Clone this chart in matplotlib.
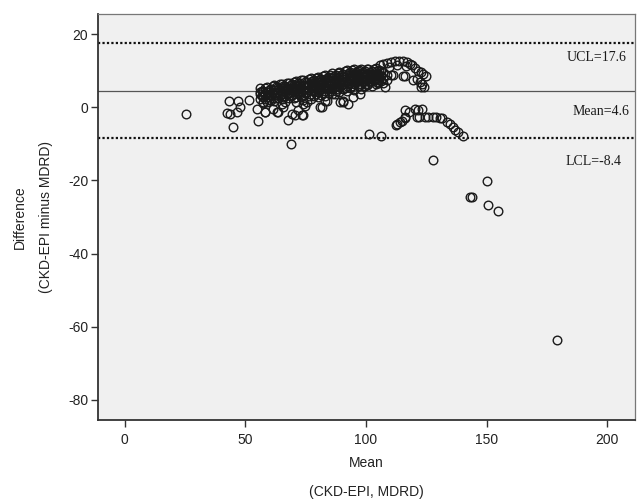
import matplotlib
matplotlib.use("Agg")
import matplotlib.pyplot as plt
import matplotlib.transforms as mtransforms

# ---------------- data ----------------
# dense main band: (mean, difference)
band_mean = [
    56, 56, 56,
    57.5, 57.5, 57.5,
    59, 59, 59, 59,
    60.5, 60.5, 60.5,
    62, 62, 62, 62,
    63.5, 63.5, 63.5,
    65, 65, 65, 65,
    66.5, 66.5, 66.5, 66.5,
    68, 68, 68, 68,
    69.5, 69.5, 69.5,
    71, 71, 71, 71, 71,
    72.5, 72.5, 72.5,
    74, 74, 74, 74, 74,
    75.5, 75.5, 75.5,
    77, 77, 77, 77, 77,
    78.5, 78.5, 78.5, 78.5,
    80, 80, 80, 80, 80,
    81.5, 81.5, 81.5, 81.5,
    83, 83, 83, 83, 83,
    84.5, 84.5, 84.5, 84.5,
    86, 86, 86, 86, 86,
    87.5, 87.5, 87.5, 87.5,
    89, 89, 89, 89, 89,
    90.5, 90.5, 90.5, 90.5,
    92, 92, 92, 92, 92,
    93.5, 93.5, 93.5, 93.5,
    95, 95, 95, 95, 95,
    96.5, 96.5, 96.5, 96.5,
    98, 98, 98, 98, 98,
    99.5, 99.5, 99.5, 99.5,
    101, 101, 101, 101,
    102.5, 102.5, 102.5, 102.5,
    104, 104, 104, 104,
    105.5, 105.5, 105.5,
    107, 107, 107,
    108.5, 108.5,
]
band_diff = [
    5.2, 3.8, 2.4,
    4.6, 3.0, 1.2,
    5.6, 4.2, 2.8, 1.5,
    5.0, 3.4, 2.0,
    6.2, 4.8, 3.3, 1.8,
    5.7, 4.2, 2.6,
    6.5, 5.2, 3.8, 2.4,
    6.0, 4.6, 3.1, 1.6,
    6.8, 5.4, 4.0, 2.6,
    6.3, 4.9, 3.5,
    7.3, 5.9, 4.5, 3.0, 1.6,
    6.7, 5.3, 3.8,
    7.6, 6.2, 4.8, 3.4, 2.0,
    7.1, 5.6, 4.2,
    8.0, 6.6, 5.2, 3.7, 2.4,
    7.5, 6.0, 4.6, 3.1,
    8.4, 7.0, 5.5, 4.1, 2.8,
    7.8, 6.4, 5.0, 3.5,
    8.8, 7.4, 5.9, 4.5, 3.2,
    8.3, 6.8, 5.4, 4.0,
    9.4, 8.0, 6.5, 5.1, 3.7,
    8.9, 7.4, 6.0, 4.6,
    9.8, 8.4, 7.0, 5.6, 4.2,
    9.3, 7.8, 6.4, 5.0,
    10.2, 8.8, 7.3, 5.9, 4.5,
    9.7, 8.2, 6.8, 5.4,
    10.5, 9.1, 7.7, 6.3, 4.9,
    10.0, 8.6, 7.2, 5.8,
    10.6, 9.2, 7.8, 6.4, 5.0,
    10.1, 8.7, 7.3, 5.9,
    10.5, 9.1, 7.7, 6.3,
    10.0, 8.6, 7.2, 5.8,
    10.7, 9.3, 7.9, 6.5,
    10.2, 8.8, 7.4,
    9.6, 8.1, 6.6,
    9.0, 7.6,
]

# second (interleaved) part of the dense band
band2_mean = [
    56.75, 56.75,
    58.25, 58.25, 58.25,
    59.75, 59.75, 59.75,
    61.25, 61.25, 61.25,
    62.75, 62.75, 62.75,
    64.25, 64.25, 64.25,
    65.75, 65.75, 65.75,
    67.25, 67.25, 67.25,
    68.75, 68.75, 68.75,
    70.25, 70.25, 70.25, 70.25,
    71.75, 71.75, 71.75,
    73.25, 73.25, 73.25, 73.25,
    74.75, 74.75, 74.75,
    76.25, 76.25, 76.25, 76.25,
    77.75, 77.75, 77.75,
    79.25, 79.25, 79.25, 79.25,
    80.75, 80.75, 80.75,
    82.25, 82.25, 82.25, 82.25,
    83.75, 83.75, 83.75,
    85.25, 85.25, 85.25, 85.25,
    86.75, 86.75, 86.75,
    88.25, 88.25, 88.25, 88.25,
    89.75, 89.75, 89.75,
    91.25, 91.25, 91.25, 91.25,
    92.75, 92.75, 92.75,
    94.25, 94.25, 94.25, 94.25,
    95.75, 95.75, 95.75,
    97.25, 97.25, 97.25, 97.25,
    98.75, 98.75, 98.75,
    100.25, 100.25, 100.25, 100.25,
    101.75, 101.75, 101.75,
    103.25, 103.25, 103.25,
    104.75, 104.75, 104.75,
    106.25, 106.25, 106.25,
]
band2_diff = [
    4.5, 3.1,
    5.3, 3.9, 2.2,
    4.9, 3.5, 2.1,
    5.9, 4.1, 2.7,
    5.5, 4.0, 2.5,
    6.3, 4.9, 3.4,
    5.9, 4.4, 3.0,
    6.6, 5.2, 3.8,
    6.2, 4.7, 3.2,
    7.0, 5.6, 4.2, 2.5,
    6.6, 5.1, 3.7,
    7.4, 6.0, 4.5, 2.8,
    7.0, 5.5, 4.0,
    7.8, 6.4, 4.9, 3.2,
    7.3, 5.9, 4.4,
    8.2, 6.7, 5.3, 3.6,
    7.7, 6.2, 4.8,
    8.6, 7.1, 5.7, 4.0,
    8.1, 6.6, 5.2,
    9.0, 7.5, 6.1, 4.5,
    8.6, 7.1, 5.6,
    9.5, 8.0, 6.5, 5.0,
    9.0, 7.5, 6.1,
    9.9, 8.4, 6.9, 5.4,
    9.4, 8.0, 6.5,
    10.2, 8.7, 7.3, 5.8,
    9.8, 8.3, 6.9,
    10.3, 8.9, 7.4, 6.0,
    9.8, 8.4, 7.0,
    10.4, 8.9, 7.5, 6.1,
    9.8, 8.3, 6.9,
    10.4, 8.9, 7.5,
    9.9, 8.5, 7.1,
    10.0, 8.6, 7.2,
]

# upper arc and curl at high means
arc_mean = [105.8, 107.2, 108.6, 110.3, 112.0, 113.6, 115.3, 116.8, 118.2, 119.0,
            120.3, 121.6, 122.6, 123.6, 125.0, 121.0, 122.4, 123.3, 124.2, 111.3,
            116.2, 107.9, 105.0, 110.4, 115.2, 119.3, 122.7, 109.5, 113.0, 116.5]
arc_diff = [11.5, 11.9, 12.2, 12.5, 12.7, 12.7, 12.6, 12.4, 12.0, 11.5,
            10.8, 10.1, 9.7, 9.3, 8.6, 7.9, 6.9, 6.3, 5.6, 9.0,
            8.6, 5.6, 6.6, 9.0, 8.5, 7.4, 5.5, 11.2, 11.6, 11.4]

# scattered points below the band
low_mean = [55.3, 58.0, 61.5, 63.0, 65.7, 67.8, 69.2, 70.6, 71.8, 73.9,
            74.7, 75.4, 81.6, 83.7, 87.1, 90.6, 92.7, 94.7, 97.5, 68.8,
            43.2, 47.1, 42.2, 46.6, 44.7, 47.8, 51.6, 54.7, 56.0, 57.4,
            58.1, 63.6, 65.0, 73.3, 74.0, 80.9, 83.0, 89.2, 90.5, 43.6]
low_diff = [-3.6, -1.3, -0.3, -1.3, 0.1, -3.4, -1.7, -2.2, -0.8, -2.2,
            0.5, 1.5, 0.1, 1.9, 3.7, 1.5, 1.0, 2.8, 3.6, -10.1,
            1.7, 1.9, -1.6, -1.3, -5.4, 0.1, 2.1, -0.4, 4.2, 1.5,
            -1.3, -1.3, 1.0, -2.2, 1.0, 0.1, 1.7, 1.5, 1.9, -1.7]

# lower branch at high means
branch_mean = [101.2, 106.1, 112.4, 113.0, 114.1, 115.0, 116.1, 116.3, 117.8, 116.1,
               120.2, 121.5, 123.0, 121.0, 122.0, 124.5, 125.5, 127.8, 128.9, 130.7,
               131.7, 133.5, 134.8, 136.0, 137.0, 138.1, 140.1]
branch_diff = [-7.4, -7.7, -4.7, -4.5, -4.0, -3.6, -3.0, -2.7, -1.3, -0.8,
               -0.3, -0.6, -0.4, -2.7, -2.7, -2.5, -2.7, -2.7, -2.7, -3.0,
               -2.9, -4.0, -4.6, -5.4, -6.1, -6.8, -7.9]

# outliers
out_mean = [25.2, 127.7, 150.0, 143.1, 143.8, 150.6, 154.6, 179.0]
out_diff = [-1.7, -14.3, -20.2, -24.4, -24.5, -26.6, -28.4, -63.6]

mean_diff = 4.6
ucl = 17.6
lcl = -8.4

x_ticks = [0, 50, 100, 150, 200]
y_ticks = [-80, -60, -40, -20, 0, 20]

# ---------------- figure ----------------
sans = ["Liberation Sans Narrow", "Liberation Sans", "DejaVu Sans"]
serif = ["Liberation Serif", "DejaVu Serif"]

fig = plt.figure(figsize=(6.37, 5.01), dpi=100)
fig.patch.set_facecolor("white")
ax = fig.add_axes([98 / 637, 1 - 420 / 501, (635 - 98) / 637, (420 - 14) / 501])
ax.set_facecolor("#f0f0f0")

all_mean = band_mean + band2_mean + arc_mean + low_mean + branch_mean + out_mean
all_diff = band_diff + band2_diff + arc_diff + low_diff + branch_diff + out_diff
ax.plot(all_mean, all_diff, linestyle="none", marker="o", markersize=6.2,
        markerfacecolor="none", markeredgecolor="#1a1a1a", markeredgewidth=1.0,
        zorder=3)

ax.axhline(ucl, color="#111111", linestyle=(0, (1.0, 1.0)), linewidth=1.6, zorder=2)
ax.axhline(lcl, color="#111111", linestyle=(0, (1.0, 1.0)), linewidth=1.6, zorder=2)
ax.axhline(mean_diff, color="#555555", linestyle="-", linewidth=0.9, zorder=2)

trans = mtransforms.blended_transform_factory(ax.transAxes, ax.transData)
ax.text(0.985, ucl - 3.9, f"UCL={ucl}", transform=trans, ha="right", va="center",
        family=serif, fontsize=10, color="#1a1a1a")
ax.text(0.989, mean_diff - 5.7, f"Mean={mean_diff}", transform=trans, ha="right",
        va="center", family=serif, fontsize=10, color="#1a1a1a")
ax.text(0.974, lcl - 6.4, f"LCL={lcl}", transform=trans, ha="right", va="center",
        family=serif, fontsize=10, color="#1a1a1a")

ax.set_xlim(-11.1, 211.5)
ax.set_ylim(-85.6, 25.6)
ax.set_xticks(x_ticks)
ax.set_yticks(y_ticks)
ax.set_xticklabels([str(t) for t in x_ticks], family=sans, fontsize=10, color="#222222")
ax.set_yticklabels([str(t) for t in y_ticks], family=sans, fontsize=10, color="#222222")
ax.tick_params(axis="both", direction="out", length=5, width=1.0, color="#333333")
ax.tick_params(axis="x", pad=4)
ax.tick_params(axis="y", pad=2)

for side in ["left", "bottom"]:
    ax.spines[side].set_color("#333333")
    ax.spines[side].set_linewidth(1.3)
for side in ["top", "right"]:
    ax.spines[side].set_color("#777777")
    ax.spines[side].set_linewidth(0.9)

fig.text(366 / 637, 1 - 463 / 501, "Mean", ha="center", va="center",
         family=sans, fontsize=10, color="#222222")
fig.text(366 / 637, 1 - 492 / 501, "(CKD-EPI, MDRD)", ha="center", va="center",
         family=sans, fontsize=10, color="#222222")
fig.text(20 / 637, 1 - 217 / 501, "Difference", ha="center", va="center",
         rotation=90, family=sans, fontsize=10, color="#222222")
fig.text(46 / 637, 1 - 217 / 501, "(CKD-EPI minus MDRD)", ha="center", va="center",
         rotation=90, family=sans, fontsize=10, color="#222222")

fig.savefig("out.png", dpi=100)
